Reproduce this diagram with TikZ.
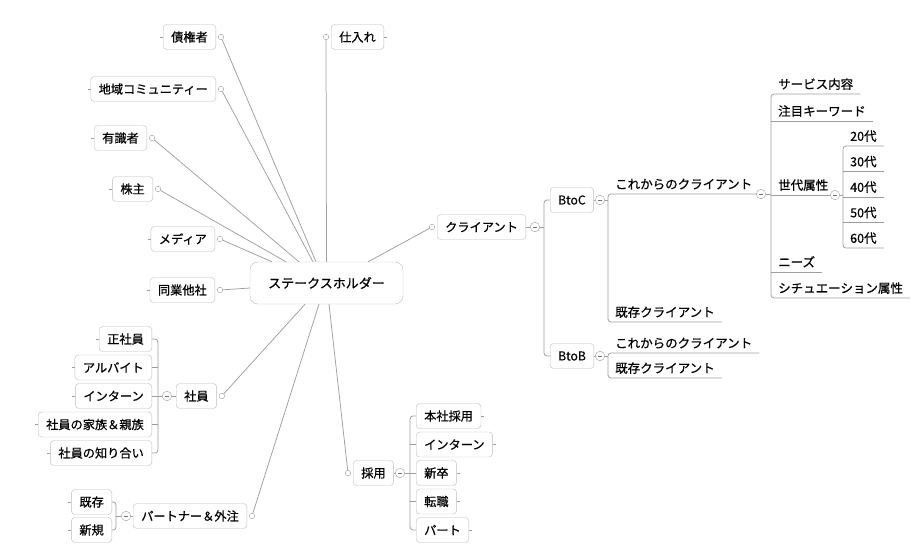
\documentclass[tikz,border=0pt]{standalone}
\usepackage{fontspec}
\setmainfont{Noto Sans CJK JP}[FakeBold=0.6]
\usetikzlibrary{positioning}
\definecolor{linegray}{HTML}{9E9E9E}
\definecolor{rimgray}{HTML}{BDBDBD}
\tikzset{
  topic/.style={draw=rimgray, fill=white, rounded corners=3.5pt, inner xsep=8pt,
    minimum height=25pt, font=\fontsize{12.2}{14}\selectfont},
  hub/.style={topic, rounded corners=8pt, minimum width=153pt, minimum height=42pt,
    font=\fontsize{13}{15}\selectfont},
  leaf/.style={anchor=south west, inner xsep=7pt, inner ysep=3pt, text height=9pt,
    text depth=2pt, font=\fontsize{12.5}{14}\selectfont},
  knob/.style={circle, draw=linegray, fill=white, minimum size=5.5pt, inner sep=0pt},
  fold/.style={circle, draw=linegray, fill=white, minimum size=9.5pt, inner sep=0pt,
    path picture={\draw[gray!90!black] ([xshift=-2pt]path picture bounding box.center)
      -- ([xshift=2pt]path picture bounding box.center);}},
  wire/.style={draw=linegray, line width=0.75pt}
}
\begin{document}
\begin{tikzpicture}[x=1pt, y=-1pt]
  \useasboundingbox (0,0) rectangle (918,555);
  \node[hub] (hub) at (326.5,283) {ステークスホルダー};

  % stakeholders on the left
  \node[topic, anchor=east] (cred)  at (216,37)  {債権者};
  \node[topic, anchor=east] (comm)  at (216,89)  {地域コミュニティー};
  \node[topic, anchor=east] (sage)  at (147,138) {有識者};
  \node[topic, anchor=east] (share) at (153,189) {株主};
  \node[topic, anchor=east] (media) at (215,239) {メディア};
  \node[topic, anchor=east] (peer)  at (215,290) {同業他社};
  \foreach \n/\dx in {cred/-10.5, comm/-13.5, sage/-27.5, share/-40.5, media/-54.5} {
    \node[knob] (\n-k) at ([xshift=5pt]\n.east) {};
    \draw[wire] (\n-k) -- ([xshift=\dx pt]hub.north);
  }
  \node[knob] (peer-k) at ([xshift=5pt]peer.east) {};
  \draw[wire] (peer-k) -- ([yshift=-5pt]hub.west);

  % supplies
  \node[topic, anchor=west] (stock) at (331,37) {仕入れ};
  \node[knob] (stock-k) at ([xshift=-5pt]stock.west) {};
  \draw[wire] (stock-k) -- (hub.north);

  % staff
  \node[topic, anchor=west] (staff) at (176,396) {社員};
  \node[knob] (staff-k) at ([xshift=5pt]staff.east) {};
  \draw[wire] (staff-k) -- ([xshift=-21.5pt]hub.south);
  \node[fold] (staff-f) at (167,396) {};
  \coordinate (staff-b) at (158,396);
  \node[topic, anchor=east] (s1) at (152,339)   {正社員};
  \node[topic, anchor=east] (s2) at (152,367.5) {アルバイト};
  \node[topic, anchor=east] (s3) at (152,396)   {インターン};
  \node[topic, anchor=east] (s4) at (152,424.5) {社員の家族＆親族};
  \node[topic, anchor=east] (s5) at (152,453)   {社員の知り合い};
  \draw[wire] (staff) -- (staff-f) -- (staff-b);
  \draw[wire, rounded corners=3pt] (s1.east) -| (staff-b) |- (s5.east);
  \foreach \i in {2,3,4}
    \draw[wire] (s\i.east) -- (s\i.east -| staff-b);

  % partners
  \node[topic, anchor=west] (part) at (133,516) {パートナー＆外注};
  \node[knob] (part-k) at ([xshift=5pt]part.east) {};
  \draw[wire] (part-k) -- ([xshift=-7.5pt]hub.south);
  \node[fold] (part-f) at (126,516) {};
  \coordinate (part-b) at (116,516);
  \node[topic, anchor=east] (p1) at (112,502) {既存};
  \node[topic, anchor=east] (p2) at (112,530) {新規};
  \draw[wire] (part) -- (part-f) -- (part-b);
  \draw[wire, rounded corners=3pt] (p1.east) -| (part-b) |- (p2.east);

  % hiring
  \node[topic, anchor=west] (hire) at (353,473) {採用};
  \node[knob] (hire-k) at ([xshift=-5pt]hire.west) {};
  \draw[wire] (hire-k) -- ([xshift=2.5pt]hub.south);
  \node[fold] (hire-f) at (400,473) {};
  \coordinate (hire-b) at (410,473);
  \node[topic, anchor=west] (h1) at (416,416)   {本社採用};
  \node[topic, anchor=west] (h2) at (416,444.5) {インターン};
  \node[topic, anchor=west] (h3) at (416,473)   {新卒};
  \node[topic, anchor=west] (h4) at (416,501.5) {転職};
  \node[topic, anchor=west] (h5) at (416,530)   {パート};
  \draw[wire] (hire) -- (hire-f) -- (hire-b);
  \draw[wire, rounded corners=3pt] (h1.west) -| (hire-b) |- (h5.west);
  \foreach \i in {2,3,4}
    \draw[wire] (h\i.west) -- (h\i.west -| hire-b);

  % clients
  \node[topic, anchor=west] (client) at (437,227) {クライアント};
  \node[knob] (client-k) at ([xshift=-5pt]client.west) {};
  \draw[wire] (client-k) -- ([xshift=41.5pt]hub.north);
  \node[fold] (client-f) at (535,227) {};
  \coordinate (client-b) at (544,227);
  \node[topic, anchor=west] (btoc) at (550,200) {BtoC};
  \node[topic, anchor=west] (btob) at (550,356) {BtoB};
  \draw[wire] (client) -- (client-f) -- (client-b);
  \draw[wire, rounded corners=3pt] (btoc.west) -| (client-b) |- (btob.west);

  \node[fold] (btoc-f) at (600,200) {};
  \node[leaf] (c1) at (608,194) {これからのクライアント};
  \node[leaf] (c2) at (608,322) {既存クライアント};
  \node[fold] (c1-f) at (761,194) {};
  \draw[wire] (btoc) -- (btoc-f) -- (btoc-f -| c1.south west);
  \draw[wire, rounded corners=3pt] (c1-f) -- (c1.south west) -- (c2.south west)
    -- (c2.south east);

  \node[fold] (btob-f) at (600,356) {};
  \node[leaf] (b1) at (608,353) {これからのクライアント};
  \node[leaf] (b2) at (608,378) {既存クライアント};
  \draw[wire] (btob) -- (btob-f) -- (btob-f -| b1.south west);
  \draw[wire, rounded corners=3pt] (b1.south east) -- (b1.south west) -- (b2.south west)
    -- (b2.south east);

  \node[leaf] (k1) at (771,94)  {サービス内容};
  \node[leaf] (k2) at (771,121) {注目キーワード};
  \node[leaf] (k3) at (771,195) {世代属性};
  \node[leaf] (k4) at (771,272) {ニーズ};
  \node[leaf] (k5) at (771,298) {シチュエーション属性};
  \draw[wire] (c1-f) -- (c1-f -| k1.south west);
  \draw[wire, rounded corners=3pt] (k1.south east) -- (k1.south west) -- (k5.south west)
    -- (k5.south east);
  \node[fold] (k3-f) at (835,195) {};
  \draw[wire] (k3.south west) -- (k3-f);
  \foreach \i in {2,4}
    \draw[wire] (k\i.south west) -- (k\i.south east);

  \node[leaf] (a1) at (843,146)   {20代};
  \node[leaf] (a2) at (843,171.5) {30代};
  \node[leaf] (a3) at (843,197)   {40代};
  \node[leaf] (a4) at (843,222.5) {50代};
  \node[leaf] (a5) at (843,248)   {60代};
  \draw[wire] (k3-f) -- (k3-f -| a1.south west);
  \draw[wire, rounded corners=3pt] (a1.south east) -- (a1.south west) -- (a5.south west)
    -- (a5.south east);
  \foreach \i in {2,3,4}
    \draw[wire] (a\i.south west) -- (a\i.south east);

  % little ticks on the free side of the boxes
  \foreach \n in {cred, comm, sage, share, media, peer, s1, s2, s3, s4, s5, p1, p2}
    \draw[wire] (\n.west) -- ++(-3,0);
  \foreach \n in {stock, h1, h2, h3, h4, h5}
    \draw[wire] (\n.east) -- ++(3,0);
\end{tikzpicture}
\end{document}
